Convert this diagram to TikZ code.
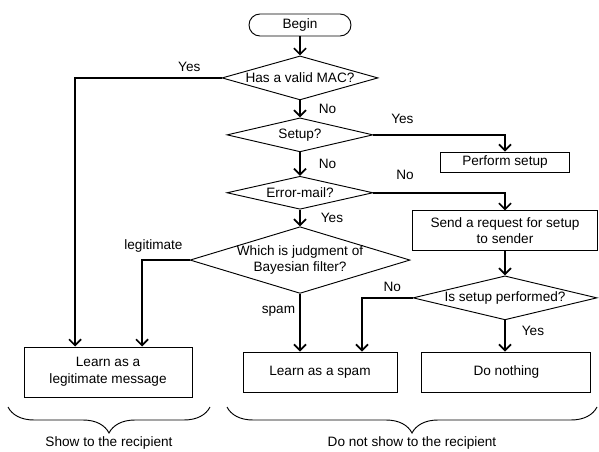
\documentclass[tikz,border=0pt]{standalone}
\usepackage{fontspec}
\setmainfont{Liberation Sans}
\usetikzlibrary{shapes.geometric,arrows.meta,positioning,calc,decorations.pathreplacing}
\tikzset{
  pbox/.style={rectangle, draw, line width=0.7pt, align=center, inner sep=0pt},
  dbox/.style={diamond, draw, line width=0.7pt, align=center, inner sep=0pt, aspect=3.3},
  arr/.style={-{Straight Barb[length=4.5pt,width=9pt]}, line width=1.3pt},
}
\begin{document}
\begin{tikzpicture}[x=0.75pt, y=-0.75pt,
    font=\fontsize{10.2}{11.8}\selectfont,
    lbl/.style={inner sep=1pt},
    brc/.style={decorate, decoration={brace, mirror, amplitude=19.5pt}, line width=0.7pt}
  ]
  \useasboundingbox (0,0) rectangle (599,452);
  % main column
  \node[pbox, rounded corners=8.25pt, minimum width=76.5pt, minimum height=16.5pt] (begin) at (300,25) {Begin};
  \node[dbox, minimum width=117pt, minimum height=33pt, below=14.25pt of begin] (mac) {Has a valid MAC?};
  \node[dbox, minimum width=109.5pt, minimum height=25.5pt, below=12.75pt of mac] (setup) {Setup?};
  \node[dbox, minimum width=109.5pt, minimum height=24.75pt, below=17.6pt of setup] (errmail) {Error-mail?};
  \node[dbox, minimum width=165pt, minimum height=49.5pt, below=12.4pt of errmail] (judge) {Which is judgment of\\Bayesian filter?};
  % right column
  \node[pbox, minimum width=96.75pt, minimum height=15pt] (perf) at (505,162) {Perform setup};
  \node[pbox, minimum width=138.75pt, minimum height=30pt, below=28.5pt of perf] (req) {Send a request for setup\\to sender};
  \node[dbox, aspect=4.2, minimum width=138pt, minimum height=33pt, below=18pt of req] (perfq) {Is setup performed?};
  % bottom row
  \node[pbox, minimum width=115.5pt, minimum height=30pt] (lspam) at (320,372) {Learn as a spam};
  \node[pbox, minimum width=126pt, minimum height=37.5pt, left=37.5pt of lspam, font=\fontsize{10.2}{13}\selectfont] (legit) {Learn as a\\legitimate message};
  \node[pbox, minimum width=126.75pt, minimum height=30pt, right=18pt of lspam] (nothing) {Do nothing};

  \draw[arr] (begin) -- (mac);
  \draw[arr] (mac) -- node[right=12.5pt, lbl] {No} (setup);
  \draw[arr] (setup) -- node[right=12.5pt, lbl] {No} (errmail);
  \draw[arr] (errmail) -- node[right=14pt, lbl] {Yes} (judge);
  \draw[arr] (mac.west) -| node[pos=0.11, above=3pt, lbl] {Yes} ($(legit.north)+(-33,0)$);
  \draw[arr] (setup.east) -| node[pos=0.11, above=6.5pt, lbl] {Yes} (perf.north);
  \draw[arr] (errmail.east) -| node[pos=0.12, above=8pt, lbl] {No} (req.north);
  \draw[arr] (judge.west) -| node[pos=0.38, above=4pt, lbl] {legitimate} ($(legit.north)+(34,0)$);
  \draw[arr] (judge.south) -- node[pos=0.3, left=2pt, lbl] {spam} ($(lspam.north)+(-20,0)$);
  \draw[arr] (req) -- (perfq);
  \draw[arr] (perfq.west) -| node[pos=0.2, above=3pt, lbl] {No} ($(lspam.north)+(42,0)$);
  \draw[arr] (perfq.south) -- node[pos=0.35, right=11pt, lbl] {Yes} (perfq.south |- nothing.north);

  % braces
  \draw[brc] (8,407) -- (210,407);
  \draw[brc] (227,407) -- (597,407);
  \node (show) at (109,443) {Show to the recipient};
  \node (noshow) at (412,443) {Do not show to the recipient};
\end{tikzpicture}
\end{document}
